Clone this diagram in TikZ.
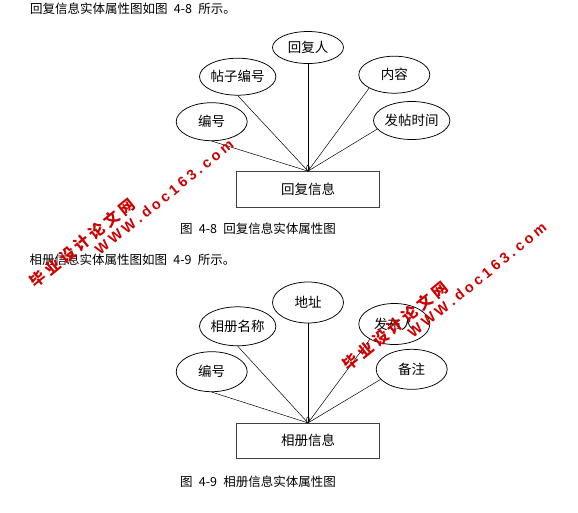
\documentclass[tikz,border=0pt]{standalone}
\usepackage{fontspec}
\setmainfont{Noto Sans CJK SC}
\newfontfamily\wmcjk{Noto Sans CJK SC}
\newfontfamily\wmlat{Liberation Sans}
\usetikzlibrary{shapes.geometric}
\newcommand\wk{\kern3.4pt}
\newcommand\ck{\kern3.5pt}

\begin{document}
\begin{tikzpicture}[x=1pt,y=-1pt,
    attr/.style={ellipse,draw,line width=0.75pt,minimum width=71pt,minimum height=38pt,
      inner sep=0pt,font=\fontsize{13.5}{15}\selectfont},
    ent/.style={rectangle,draw=black!75,line width=0.8pt,minimum width=143pt,
      minimum height=36pt,inner sep=0pt,font=\fontsize{13.5}{15}\selectfont},
    link/.style={line width=0.5pt},
    txt/.style={anchor=west,inner sep=0pt,font=\fontsize{12.5}{14}\selectfont},
    wmcn/.style={red!80!black,rotate=39,inner sep=0pt,font=\wmcjk\bfseries\fontsize{15.5}{16}\selectfont},
    wmen/.style={red!80!black,rotate=39,inner sep=0pt,font=\wmlat\bfseries\fontsize{14.5}{15}\selectfont}]
  \useasboundingbox (0,0) rectangle (578,512);
  % reply entity
  \node[txt] (head1) at (30,9) {回复信息实体属性图如图{\enspace}4-8{\enspace}所示。};
  \node[attr,minimum height=32pt] (hfr) at (308,47.5) {回复人};
  \node[attr,minimum height=37pt] (tzbh) at (237.7,76.7) {帖子编号};
  \node[attr,minimum height=37pt] (nr) at (394.3,74.7) {内容};
  \node[attr] (bh1) at (211.7,121.7) {编号};
  \node[attr] (ftsj) at (411.7,120.5) {发帖时间};
  \node[ent] (hfxx) at (308,189.5) {回复信息};
  \foreach \a in {bh1.south,tzbh.south,hfr.south,nr.208,ftsj.194}
    \draw[link] (\a) -- (hfxx.north);
  \draw[link] ([yshift=3pt]hfxx.north) ellipse [x radius=1.5pt,y radius=3pt];
  \node[txt] (cap1) at (180,228.5) {图{\enspace}4-8{\enspace}回复信息实体属性图};
  % album entity
  \node[txt] (head2) at (29.5,260) {相册信息实体属性图如图{\enspace}4-9{\enspace}所示。};
  \node[attr,minimum height=41pt] (dz) at (308,302.5) {地址};
  \node[attr,minimum height=39pt] (xcmc) at (237.7,326.3) {相册名称};
  \node[attr,minimum height=41pt] (fbr) at (394.3,324) {发布人};
  \node[attr,minimum height=40pt] (bh2) at (211.7,371.7) {编号};
  \node[attr,minimum height=40pt] (bz) at (411.7,369.3) {备注};
  \node[ent,minimum height=35pt] (xcxx) at (308,440.8) {相册信息};
  \foreach \a in {bh2.south,xcmc.south,dz.south,fbr.212,bz.198}
    \draw[link] (\a) -- (xcxx.north);
  \draw[link] ([yshift=3pt]xcxx.north) ellipse [x radius=1.5pt,y radius=3pt];
  \node[txt] (cap2) at (180,481.7) {图{\enspace}4-9{\enspace}相册信息实体属性图};
  % watermarks
  \foreach \dx/\dy [count=\i] in {0/0,313/83} {
    \node[wmcn] (wmcn\i) at (82.2+\dx,243.3+\dy) {毕\ck 业\ck 设\ck 计\ck 论\ck 文\ck 网};
    \node[wmen] (wmen\i) at (164.2+\dx,197.2+\dy)
      {W\wk W\wk W\wk .\wk d\wk o\wk c\wk 1\wk 6\wk 3\wk .\wk c\wk o\wk m};
  }
\end{tikzpicture}
\end{document}
